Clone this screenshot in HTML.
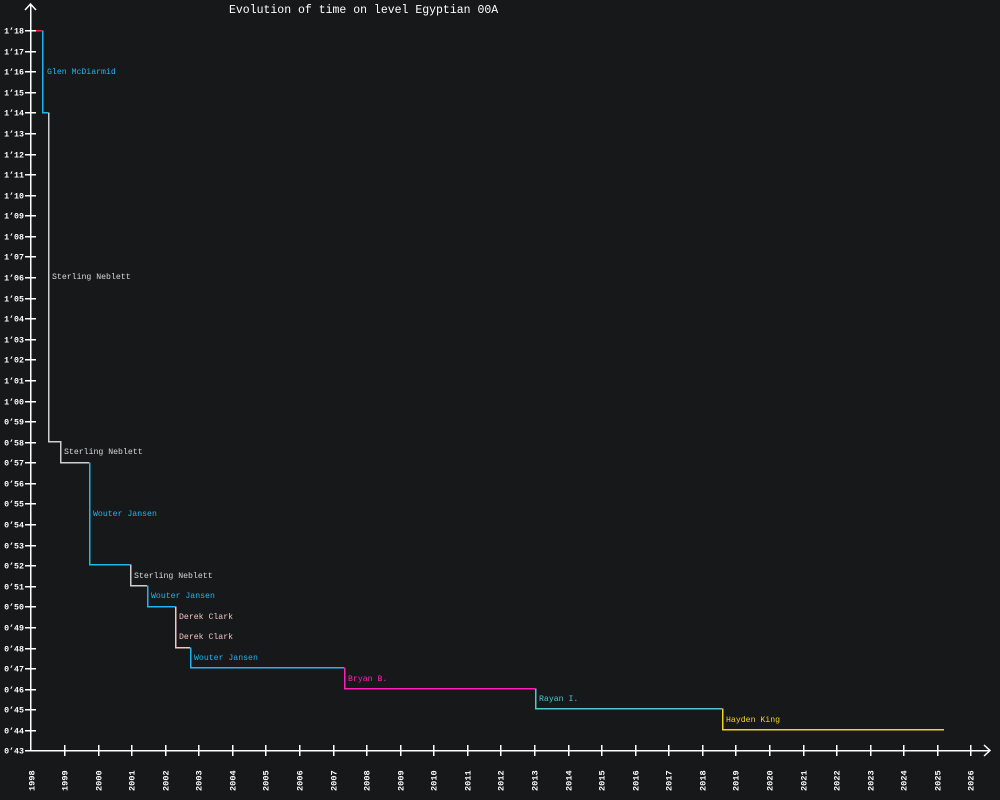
<!DOCTYPE html>
<html><head><meta charset="utf-8"><style>
html,body{margin:0;padding:0;background:#17181a;}
svg{display:block;}
text{font-family:"Liberation Mono","DejaVu Sans Mono",monospace;}
</style></head><body>
<svg id="s" width="1000" height="800" xmlns="http://www.w3.org/2000/svg">
<rect width="1000" height="800" fill="#17181a"/>
<text x="229" y="13" fill="#fff" font-size="11.5">Evolution of time on level Egyptian 00A</text>
<g stroke="#fff" stroke-width="1.5" fill="none">
<line x1="30.5" y1="5" x2="30.5" y2="751" shape-rendering="crispEdges"/>
<line x1="30" y1="750.5" x2="990" y2="750.5" shape-rendering="crispEdges"/>
<polyline points="25,10 30.5,4 36,10"/>
<polyline points="984,745 990,750.5 984,756"/>
</g>
<g id="ticks" shape-rendering="crispEdges"></g>
<g fill="none" stroke-width="1.5" shape-rendering="crispEdges">
<line x1="36" y1="30.5" x2="42" y2="30.5" stroke="#ff2020"/>
<polyline stroke="#1fb6f0" points="42.5,30.5 42.5,112.5 48,112.5"/>
<polyline stroke="#cfcfcf" points="48.5,112.5 48.5,441.5 60.5,441.5 60.5,462.5 89,462.5"/>
<polyline stroke="#1fb6f0" points="89.5,462.5 89.5,564.5 130,564.5"/>
<polyline stroke="#cfcfcf" points="130.5,564.5 130.5,585.5 147,585.5"/>
<polyline stroke="#1fb6f0" points="147.5,585.5 147.5,606.5 175,606.5"/>
<polyline stroke="#f5c4c4" points="175.5,606.5 175.5,647.5 190,647.5"/>
<polyline stroke="#1fb6f0" points="190.5,647.5 190.5,667.5 344,667.5"/>
<polyline stroke="#ff1fb8" points="344.5,667.5 344.5,688.5 535,688.5"/>
<polyline stroke="#4fc8d0" points="535.5,688.5 535.5,708.5 722,708.5"/>
<polyline stroke="#f0d524" points="722.5,708.5 722.5,729.5 944,729.5"/>
</g>
<g font-size="8.2">
<text x="47" y="74" fill="#1fb6f0">Glen McDiarmid</text>
<text x="52" y="279" fill="#d8d8d8">Sterling Neblett</text>
<text x="64" y="454" fill="#d8d8d8">Sterling Neblett</text>
<text x="93" y="516" fill="#1fb6f0">Wouter Jansen</text>
<text x="134" y="578" fill="#d8d8d8">Sterling Neblett</text>
<text x="151" y="598" fill="#1fb6f0">Wouter Jansen</text>
<text x="179" y="619" fill="#f5c4c4">Derek Clark</text>
<text x="179" y="639" fill="#f5c4c4">Derek Clark</text>
<text x="194" y="660" fill="#1fb6f0">Wouter Jansen</text>
<text x="348" y="681" fill="#ff1fb8">Bryan B.</text>
<text x="539" y="701" fill="#4fc8d0">Rayan I.</text>
<text x="726" y="722" fill="#f0d524">Hayden King</text>
</g>
</svg>
<script>
var g=document.getElementById('ticks'),h='';
for(var i=0;i<=35;i++){var v=43+i,y=Math.round(750.5-i*20.586)+0.5;if(i==0)y=750.5;
var m=Math.floor(v/60),s=v%60;var lab=m+"\u2019"+(s<10?'0':'')+s;
h+='<line x1="25" x2="36" y1="'+y+'" y2="'+y+'" stroke="#fff" stroke-width="1.5"/>';
h+='<text x="24" y="'+(y+3)+'" fill="#fff" font-size="8.3" font-weight="bold" text-anchor="end">'+lab+'</text>';}
for(var j=0;j<=28;j++){var x=Math.round(30.5+j*33.57)+0.5;
if(j>0)h+='<line x1="'+x+'" x2="'+x+'" y1="745" y2="756" stroke="#fff" stroke-width="1.5"/>';
h+='<text transform="translate('+(x+3)+',791) rotate(-90)" fill="#fff" font-size="8.6" font-weight="bold">'+(1998+j)+'</text>';}
g.innerHTML=h;
</script>
</body></html>
